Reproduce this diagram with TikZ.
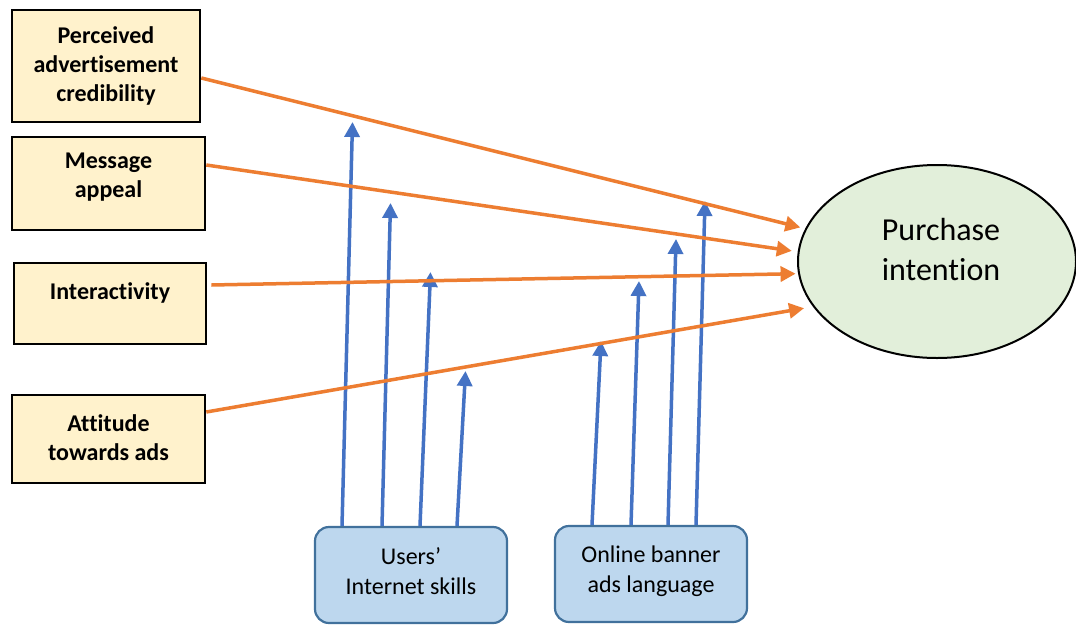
\documentclass[tikz,border=0pt]{standalone}
\usepackage{fontspec}
\setmainfont{Carlito}[Ligatures={NoCommon}]
\usetikzlibrary{arrows.meta,shapes.geometric}
\definecolor{boxyellow}{HTML}{FFF2CC}
\definecolor{boxblue}{HTML}{BDD7EE}
\definecolor{boxblueborder}{HTML}{41719C}
\definecolor{ellgreen}{HTML}{E2EFDA}
\definecolor{arrorange}{HTML}{ED7D31}
\definecolor{arrblue}{HTML}{4472C4}
\begin{document}
\begin{tikzpicture}[x=1pt,y=-1pt,
  factor/.style={draw=black,line width=2.6pt,fill=boxyellow,inner sep=0pt},
  ftext/.style={font=\fontsize{24}{29}\selectfont\bfseries,align=center,inner sep=0pt},
  moderator/.style={draw=boxblueborder,line width=2.2pt,fill=boxblue,rounded corners=14pt,minimum width=192pt,minimum height=96pt,inner sep=0pt},
  mtext/.style={font=\fontsize{24}{30}\selectfont,align=center,inner sep=0pt},
  outcome/.style={ellipse,draw=black,line width=2pt,fill=ellgreen,minimum width=278pt,minimum height=193pt,inner sep=0pt},
  otext/.style={font=\fontsize{32}{40}\selectfont,align=center,inner sep=0pt},
  oarrow/.style={draw=arrorange,line width=3.5pt,-{Triangle[length=15pt,width=15pt]}},
  barrow/.style={draw=arrblue,line width=3.5pt,-{Triangle[length=15pt,width=15pt]}}
]
\useasboundingbox (0,0) rectangle (1076,624);
\fill[white] (0,0) rectangle (1076,624);

% left factor boxes
\node[factor,minimum width=188pt,minimum height=112pt] (b1) at (106,66) {};
\node[factor,minimum width=193pt,minimum height=93pt] (b2) at (108.5,183.5) {};
\node[factor,minimum width=192pt,minimum height=81pt] (b3) at (110,303.5) {};
\node[factor,minimum width=193pt,minimum height=88pt] (b4) at (108.5,439) {};
\node[ftext] (t1) at (106,66) {Perceived\\advertisement\\credibility};
\node[ftext] (t2) at (108.5,177.5) {Message\\appeal};
\node[ftext] (t3) at (110,293) {Interactivity};
\node[ftext] (t4) at (108.5,437.5) {Attitude\\towards ads};

% outcome
\node[outcome] (pi) at (937,261.5) {};
\node[otext] (pt) at (941,250) {Purchase\\intention};

% moderators
\node[moderator] (us) at (411,575) {};
\node[moderator] (on) at (651,574) {};
\node[mtext] (ust) at (411,571) {Users’\\Internet skills};
\node[mtext] (ont) at (651,571) {Online banner\\ads language};

% blue arrow tips
\coordinate (u1) at (352.5,122);
\coordinate (u2) at (390.5,203);
\coordinate (u3) at (430.5,272);
\coordinate (u4) at (465.5,371);
\coordinate (o1) at (601,341);
\coordinate (o2) at (639,281);
\coordinate (o3) at (676,239);
\coordinate (o4) at (705,201);

\draw[barrow] ([xshift=-69pt]us.north) -- (u1);
\draw[barrow] ([xshift=-29pt]us.north) -- (u2);
\draw[barrow] ([xshift=9pt]us.north) -- (u3);
\draw[barrow] ([xshift=46pt]us.north) -- (u4);
\draw[barrow] ([xshift=-59pt]on.north) -- (o1);
\draw[barrow] ([xshift=-20pt]on.north) -- (o2);
\draw[barrow] ([xshift=17pt]on.north) -- (o3);
\draw[barrow] ([xshift=45pt]on.north) -- (o4);

% orange arrows
\draw[oarrow,shorten >=5pt] ([yshift=-12pt]b1.east) -- (pi.166.6);
\draw[oarrow,shorten >=6pt] ([yshift=18.5pt]b2.east) -- (pi.176.2);
\draw[oarrow,shorten >=2.5pt] ([xshift=4pt,yshift=18.5pt]b3.east) -- (pi.185.5);
\draw[oarrow,shorten >=9pt] ([yshift=27pt]b4.east) -- (pi.200.6);
\end{tikzpicture}
\end{document}
